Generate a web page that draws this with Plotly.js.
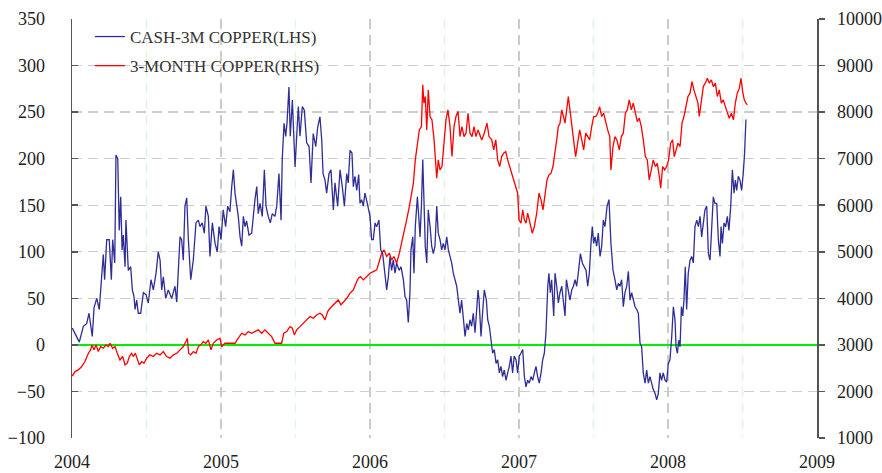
<!DOCTYPE html>
<html>
<head>
<meta charset="utf-8">
<script src="https://cdn.plot.ly/plotly-3.0.1.min.js"></script>
<style>html,body{margin:0;padding:0;background:#fff;}#chart{width:882px;height:473px;}</style>
</head>
<body>
<div id="chart"></div>
<script>
// Time in decimal years
const cashT = [2004.002,2004.020,2004.049,2004.076,2004.099,2004.114,2004.125,2004.136,2004.148,2004.166,2004.183,2004.199,2004.210,2004.219,2004.233,2004.250,2004.264,2004.273,2004.287,2004.295,2004.307,2004.317,2004.327,2004.336,2004.344,2004.356,2004.362,2004.378,2004.394,2004.405,2004.416,2004.423,2004.434,2004.445,2004.461,2004.479,2004.497,2004.512,2004.530,2004.546,2004.564,2004.579,2004.591,2004.602,2004.613,2004.629,2004.646,2004.669,2004.691,2004.703,2004.725,2004.736,2004.747,2004.758,2004.770,2004.781,2004.797,2004.814,2004.832,2004.848,2004.859,2004.874,2004.888,2004.899,2004.915,2004.926,2004.942,2004.960,2004.975,2004.987,
2005.000,2005.015,2005.031,2005.045,2005.060,2005.072,2005.083,2005.094,2005.105,2005.116,2005.128,2005.139,2005.150,2005.161,2005.172,2005.188,2005.206,2005.217,2005.228,2005.240,2005.250,2005.262,2005.277,2005.291,2005.302,2005.317,2005.331,2005.344,2005.362,2005.374,2005.389,2005.403,2005.411,2005.423,2005.434,2005.443,2005.456,2005.465,2005.479,2005.488,2005.497,2005.508,2005.519,2005.530,2005.546,2005.559,2005.575,2005.591,2005.604,2005.619,2005.636,2005.649,2005.664,2005.676,2005.685,2005.698,2005.709,2005.725,2005.738,2005.754,2005.765,2005.783,2005.799,2005.814,2005.828,2005.844,2005.854,2005.866,2005.879,2005.888,2005.899,2005.911,2005.924,2005.933,2005.944,2005.955,2005.966,2005.982,
2006.000,2006.011,2006.022,2006.034,2006.045,2006.060,2006.072,2006.085,2006.101,2006.112,2006.123,2006.134,2006.145,2006.156,2006.168,2006.179,2006.195,2006.208,2006.224,2006.235,2006.246,2006.257,2006.268,2006.275,2006.287,2006.295,2006.304,2006.318,2006.327,2006.336,2006.345,2006.354,2006.362,2006.371,2006.381,2006.391,2006.403,2006.414,2006.425,2006.436,2006.448,2006.458,2006.470,2006.481,2006.492,2006.503,2006.515,2006.526,2006.537,2006.548,2006.559,2006.570,2006.582,2006.593,2006.604,2006.615,2006.626,2006.638,2006.649,2006.660,2006.671,2006.682,2006.693,2006.705,2006.716,2006.725,2006.732,2006.745,2006.754,2006.767,2006.781,2006.790,2006.801,2006.812,2006.823,2006.834,2006.846,2006.857,2006.868,2006.879,2006.890,2006.901,2006.913,2006.924,2006.935,2006.946,2006.957,2006.968,2006.980,2006.991,
2007.002,2007.013,2007.025,2007.036,2007.047,2007.058,2007.069,2007.081,2007.092,2007.103,2007.114,2007.125,2007.136,2007.148,2007.159,2007.170,2007.181,2007.193,2007.201,2007.210,2007.219,2007.233,2007.242,2007.253,2007.264,2007.275,2007.287,2007.297,2007.309,2007.318,2007.331,2007.342,2007.354,2007.365,2007.376,2007.387,2007.398,2007.412,2007.425,2007.438,2007.450,2007.461,2007.472,2007.483,2007.492,2007.501,2007.510,2007.521,2007.532,2007.544,2007.555,2007.566,2007.577,2007.591,2007.604,2007.617,2007.631,2007.644,2007.656,2007.667,2007.678,2007.689,2007.700,2007.711,2007.723,2007.734,2007.745,2007.756,2007.767,2007.779,2007.790,2007.801,2007.812,2007.823,2007.834,2007.846,2007.857,2007.868,2007.879,2007.890,2007.901,2007.913,2007.924,2007.935,2007.946,2007.957,2007.968,2007.980,2007.991,
2008.002,2008.013,2008.025,2008.036,2008.047,2008.054,2008.063,2008.072,2008.081,2008.090,2008.099,2008.107,2008.116,2008.125,2008.136,2008.148,2008.159,2008.170,2008.181,2008.193,2008.204,2008.215,2008.226,2008.237,2008.248,2008.260,2008.271,2008.282,2008.293,2008.304,2008.315,2008.327,2008.338,2008.349,2008.356,2008.365,2008.376,2008.387,2008.398,2008.409,2008.421,2008.432,2008.443,2008.452,2008.461,2008.472,2008.483,2008.494,2008.505,2008.514,2008.523,2008.534];
const cashV = [18,12,3,20,23,34,22,9,40,50,38,77,97,70,113,113,70,113,88,204,200,123,159,102,118,84,134,80,84,59,52,38,48,34,34,56,54,45,70,59,77,100,91,59,73,50,59,50,63,46,116,113,91,149,158,113,70,91,131,134,127,131,120,149,138,95,131,109,100,127,
113,145,127,149,143,170,188,163,149,138,116,106,138,127,133,118,120,141,156,170,141,152,138,188,149,138,131,141,138,149,184,134,199,238,224,238,277,224,263,227,191,224,256,224,256,252,217,213,174,227,213,234,245,220,184,177,163,184,188,145,174,149,188,170,149,184,174,209,206,170,181,166,183,152,156,149,163,152,
138,113,113,131,127,134,102,98,77,59,73,95,80,91,77,88,80,84,70,52,48,24,56,102,116,77,127,159,138,116,149,199,156,106,88,145,127,106,98,106,149,120,113,102,109,102,116,102,95,88,77,70,63,48,34,48,31,9,23,16,27,20,34,13,38,59,48,9,31,59,48,27,20,5,-9,-5,-20,-16,-30,-23,-34,-27,-38,-30,-23,-12,-30,-12,-16,-30,
-12,-9,-5,-34,-45,-38,-41,-34,-38,-30,-23,-34,-41,-30,-16,-9,13,63,77,56,70,31,77,63,45,56,63,48,31,70,56,48,59,63,70,63,77,98,88,84,80,63,77,109,127,109,116,106,120,95,106,134,127,149,156,109,80,70,59,66,63,70,41,56,63,79,48,56,48,41,38,34,2,-2,-30,-41,-27,-41,-34,-41,-48,-52,-59,-52,-30,-38,-30,-38,
-40,-20,-16,9,41,27,-2,-9,5,-2,41,31,48,84,38,77,91,95,88,127,134,127,138,116,134,145,149,98,91,120,159,152,152,113,95,127,109,131,127,138,123,149,188,163,177,166,181,177,166,184,206,242];

const copperT = [2004.002,2004.020,2004.042,2004.065,2004.087,2004.110,2004.125,2004.134,2004.148,2004.161,2004.177,2004.192,2004.210,2004.228,2004.244,2004.255,2004.273,2004.289,2004.304,2004.322,2004.340,2004.356,2004.371,2004.385,2004.400,2004.411,2004.425,2004.438,2004.452,2004.468,2004.483,2004.501,2004.523,2004.546,2004.568,2004.591,2004.613,2004.635,2004.658,2004.680,2004.703,2004.725,2004.747,2004.765,2004.774,2004.783,2004.797,2004.814,2004.832,2004.848,2004.864,2004.881,2004.899,2004.915,2004.933,2004.948,2004.971,2004.993,
2005.005,2005.027,2005.049,2005.072,2005.094,2005.116,2005.139,2005.161,2005.183,2005.206,2005.228,2005.250,2005.273,2005.295,2005.317,2005.340,2005.362,2005.385,2005.407,2005.421,2005.441,2005.463,2005.479,2005.492,2005.508,2005.530,2005.552,2005.575,2005.597,2005.619,2005.642,2005.664,2005.680,2005.698,2005.716,2005.732,2005.754,2005.776,2005.787,2005.805,2005.828,2005.844,2005.866,2005.888,2005.906,2005.922,2005.937,2005.955,2005.978,
2006.000,2006.022,2006.045,2006.062,2006.078,2006.094,2006.112,2006.130,2006.145,2006.161,2006.179,2006.197,2006.213,2006.228,2006.246,2006.264,2006.277,2006.291,2006.304,2006.318,2006.331,2006.345,2006.354,2006.362,2006.371,2006.381,2006.391,2006.403,2006.416,2006.430,2006.441,2006.448,2006.458,2006.470,2006.483,2006.497,2006.510,2006.523,2006.537,2006.550,2006.564,2006.577,2006.591,2006.604,2006.617,2006.631,2006.644,2006.658,2006.671,2006.685,2006.698,2006.711,2006.725,2006.750,2006.767,2006.785,2006.799,2006.817,2006.830,2006.844,2006.857,2006.870,2006.884,2006.897,2006.911,2006.924,2006.937,2006.951,2006.964,2006.977,2006.991,
2007.000,2007.013,2007.025,2007.036,2007.047,2007.058,2007.069,2007.081,2007.089,2007.103,2007.119,2007.134,2007.148,2007.161,2007.174,2007.188,2007.201,2007.215,2007.228,2007.242,2007.253,2007.264,2007.275,2007.287,2007.297,2007.309,2007.320,2007.331,2007.342,2007.354,2007.367,2007.380,2007.394,2007.407,2007.421,2007.434,2007.448,2007.461,2007.474,2007.488,2007.501,2007.515,2007.528,2007.541,2007.555,2007.568,2007.582,2007.595,2007.609,2007.617,2007.631,2007.644,2007.657,2007.673,2007.687,2007.700,2007.714,2007.727,2007.740,2007.754,2007.767,2007.781,2007.794,2007.807,2007.821,2007.834,2007.848,2007.861,2007.874,2007.888,2007.901,2007.915,2007.928,2007.942,2007.951,2007.964,2007.978,2007.991,
2008.004,2008.018,2008.031,2008.042,2008.054,2008.067,2008.081,2008.094,2008.107,2008.121,2008.134,2008.148,2008.161,2008.174,2008.188,2008.201,2008.210,2008.224,2008.237,2008.250,2008.264,2008.277,2008.291,2008.304,2008.318,2008.331,2008.344,2008.358,2008.371,2008.385,2008.398,2008.411,2008.425,2008.439,2008.452,2008.465,2008.479,2008.490,2008.501,2008.512,2008.523,2008.532];
const copperV = [2330,2427,2463,2534,2642,2821,2893,3000,2893,3000,2857,2964,2928,3000,2964,3035,2928,2964,2821,2678,2750,2571,2607,2750,2821,2750,2821,2678,2571,2642,2607,2714,2785,2750,2821,2785,2857,2750,2714,2785,2821,2893,2964,3071,3143,2821,2785,2857,2821,2964,3000,3071,3035,3107,2893,3035,3107,3143,
2964,3035,3035,3035,3035,3143,3250,3214,3286,3250,3286,3322,3250,3322,3250,3178,3035,3035,3035,3250,3286,3393,3357,3214,3322,3393,3465,3537,3608,3572,3644,3680,3644,3537,3715,3787,3859,3930,3966,3859,3930,4002,4110,4180,4325,4432,4468,4396,4468,
4540,4575,4611,4790,4970,5041,4898,4970,4826,4898,4755,4970,5184,5399,5685,5971,6258,6473,6974,7260,7618,7690,8585,8192,8335,7618,8477,7905,7833,7403,6974,6580,6974,6759,6831,7403,7833,8048,7690,7045,7690,7905,8012,7475,7690,7475,7547,7976,7547,7475,7690,7475,7618,7403,7547,7762,7475,7403,7189,7403,6974,6831,7045,7117,7153,6974,6831,6688,6544,6365,6258,
5685,5613,5900,5685,5613,5828,5685,5541,5399,5541,5828,6258,6115,5900,6258,6544,6652,6688,6831,7117,7403,7690,7762,8048,7905,7762,8048,8334,8048,7690,7403,7045,7332,7618,7403,7189,7547,7475,7403,7690,7905,7905,7976,8119,7905,7976,7762,7618,7475,6759,7260,7475,7403,7189,7475,7547,7976,8048,8263,8048,8192,7976,7797,7869,7690,7403,7045,6974,6544,6759,6974,6831,6902,6616,6366,6831,6759,6831,
6974,7332,7403,7045,7189,7332,7260,7762,7905,8119,8335,8406,8657,8478,8335,8192,7905,8263,8549,8621,8728,8621,8692,8549,8621,8335,8478,8192,8263,8119,7976,7869,7976,7833,8192,8406,8514,8728,8442,8263,8192,8156];

const yearTicks = [2004,2005,2006,2007,2008,2009];
const yearLabels = ['2004','2005','2006','2007','2008','2009'];
const midYears = [2004.5,2005.5,2006.5,2007.5,2008.5];
const seriesNames = ['CASH-3M COPPER(LHS)','3-MONTH COPPER(RHS)'];

function tickFont() { return {family:'Liberation Serif', size:18, color:'#222'}; }
const gridDash = '10px,6px';

const traces = [
  {x:cashT, y:cashV, type:'scatter', mode:'lines', name:seriesNames[0], yaxis:'y', legendgroup:'a',
   line:{color:'#2e2e96', width:1.3}},
  {x:copperT, y:copperV, type:'scatter', mode:'lines', name:seriesNames[1], yaxis:'y2', legendgroup:'b',
   line:{color:'#ff0000', width:1.3}}
];

const layout = {
  width:882, height:473,
  margin:{l:72, r:65, t:19, b:35},
  paper_bgcolor:'#fff', plot_bgcolor:'#fff',
  font:{family:'Liberation Serif'},
  showlegend:true,
  legend:{x:0.024, y:1.0, xanchor:'left', yanchor:'top', bgcolor:'rgba(0,0,0,0)',
    font:{family:'Liberation Serif', size:17, color:'#333'},
    traceorder:'grouped', tracegroupgap:4},
  xaxis:{range:[2004,2009], tickmode:'array', tickvals:yearTicks, ticktext:yearLabels,
    showgrid:true, gridcolor:'#cccccc', gridwidth:1.3, griddash:gridDash,
    minor:{tickmode:'array', tickvals:midYears, showgrid:true, gridcolor:'#d9f7d9', gridwidth:1.3, griddash:gridDash, ticks:''},
    zeroline:false, showline:false, ticks:'', ticklabelstandoff:11, tickfont:tickFont()},
  yaxis:{range:[-100,350], dtick:50, tick0:0, showgrid:true, gridcolor:'#cccccc', gridwidth:1.3, griddash:gridDash,
    zeroline:true, zerolinecolor:'#00ee00', zerolinewidth:1.5,
    showline:true, linecolor:'#555', linewidth:1.5, ticks:'inside', ticklen:6, tickcolor:'#555', tickwidth:1.5,
    ticklabelstandoff:22, tickfont:tickFont()},
  yaxis2:{range:[1000,10000], dtick:1000, tickformat:'d', overlaying:'y', side:'right', showgrid:false, zeroline:false,
    showline:true, linecolor:'#555', linewidth:1.5, ticks:'outside', ticklen:6, tickcolor:'#555', tickwidth:1.5,
    ticklabelstandoff:9, tickfont:tickFont()}
};

Plotly.newPlot('chart', traces, layout, {displayModeBar:false, staticPlot:true});
</script>
</body>
</html>
